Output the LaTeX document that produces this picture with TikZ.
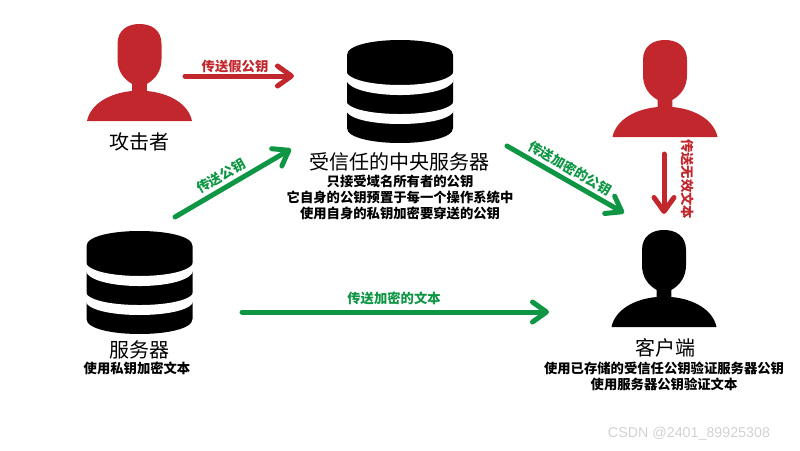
\documentclass[tikz,border=0pt]{standalone}
\usepackage{fontspec}
\setmainfont{Noto Sans CJK SC}
\setsansfont{Liberation Sans}
\usetikzlibrary{arrows.meta}
\definecolor{rosso}{HTML}{C1272D}
\definecolor{verde}{HTML}{0F9645}
\begin{document}
\begin{tikzpicture}[
	x=0.75pt, y=-0.75pt,
	falso/.style={-{Straight Barb[length=10.5pt,width=15pt,round]}, line width=3.75pt, line cap=round, rosso},
	buono/.style={-{Straight Barb[length=10.5pt,width=15pt,round]}, line width=3.75pt, line cap=round, verde},
	titolo/.style={font=\fontsize{15}{18}\selectfont, inner sep=0pt},
	nota/.style={font=\fontsize{10}{12}\selectfont\bfseries, align=center, inner sep=0pt},
	labr/.style={font=\fontsize{10}{12}\selectfont\bfseries, rosso, inner sep=0pt},
	labv/.style={font=\fontsize{10}{12}\selectfont\bfseries, verde, inner sep=0pt},
	firma/.style={font=\sffamily\fontsize{10.7}{12}\selectfont, gray!35, inner sep=0pt},
	]
	
	\useasboundingbox (0,0) rectangle (800,450);
	
	% sagoma della persona, origine in cima alla testa
	\def\sagoma{(-52.5,97) .. controls (-49,80) and (-30,69) .. (-7.3,67) -- (-7.3,60)
		.. controls (-16,55) and (-22,47) .. (-22,35) -- (-22,20)
		.. controls (-22,6) and (-12,0) .. (0,0)
		.. controls (12,0) and (22,6) .. (22,20) -- (22,35)
		.. controls (22,47) and (16,55) .. (7.3,60) -- (7.3,67)
		.. controls (30,69) and (49,80) .. (52.5,97) -- cycle}
	% cilindro del server, origine al centro in alto
	\def\disco{(-53,15) .. controls (-53,-5) and (53,-5) .. (53,15) -- (53,88)
		.. controls (53,108) and (-53,108) .. (-53,88) -- cycle}
	% strisce bianche del cilindro
	\def\primo{(-54,30) .. controls (-54,50) and (54,50) .. (54,30) -- (54,38)
		.. controls (54,60.7) and (-54,60.7) .. (-54,38) -- cycle}
	\def\secondo{(-54,60) .. controls (-54,78.7) and (54,78.7) .. (54,60) -- (54,69)
		.. controls (54,89) and (-54,89) .. (-54,69) -- cycle}
	
	%%=== persone ===
	\begin{scope}[shift={(139.5,24)}]
		\fill[rosso] \sagoma;
	\end{scope}
	\begin{scope}[shift={(665,40)}]
		\fill[rosso] \sagoma;
	\end{scope}
	\begin{scope}[shift={(664,230)}]
		\fill[black] \sagoma;
	\end{scope}
	
	%%=== server ===
	\begin{scope}[shift={(400,40)}]
		\fill[black] \disco;
		\fill[white] \primo;
		\fill[white] \secondo;
	\end{scope}
	\begin{scope}[shift={(139.5,231)}]
		\fill[black] \disco;
		\fill[white] \primo;
		\fill[white] \secondo;
	\end{scope}
	
	%%=== testi ===
	\node[titolo] (attacker) at (139,142) {攻击者};
	\node[titolo] (central) at (399,162) {受信任的中央服务器};
	\node[nota] (centralnote) at (400,197) {只接受域名所有者的公钥\\它自身的公钥预置于每一个操作系统中\\使用自身的私钥加密要穿送的公钥};
	\node[titolo] (server) at (139,350) {服务器};
	\node[nota] (servernote) at (137,368) {使用私钥加密文本};
	\node[titolo] (client) at (665,348) {客户端};
	\node[nota] (clientnote) at (664,376) {使用已存储的受信任公钥验证服务器公钥\\使用服务器公钥验证文本};
	\node[firma] (mark) at (689,434) {CSDN @2401\_89925308};
	
	%%=== estremi delle frecce ===
	\coordinate (fakefrom) at (185,76);
	\coordinate (faketo) at (294,76);
	\coordinate (keyfrom) at (175,217);
	\coordinate (keyto) at (291,149);
	\coordinate (enckeyfrom) at (507,146);
	\coordinate (enckeyto) at (624,213);
	\coordinate (badfrom) at (664,154);
	\coordinate (badto) at (664,214);
	\coordinate (textfrom) at (242,312);
	\coordinate (textto) at (549,312);
	
	%%=== frecce ===
	\draw[falso] (fakefrom) -- (faketo);
	\draw[buono] (keyfrom) -- (keyto);
	\draw[buono] (enckeyfrom) -- (enckeyto);
	\draw[falso] (badfrom) -- (badto);
	\draw[buono] (textfrom) -- (textto);
	
	%%=== etichette delle frecce ===
	\node[labr] (fakelab) at (235,66) {传送假公钥};
	\node[labv, rotate=30] (keylab) at (221,176) {传送公钥};
	\node[labv, rotate=-30] (enckeylab) at (570,168) {传送加密的公钥};
	\node[labr, rotate=-90] (badlab) at (688,179) {传送无效文本};
	\node[labv] (textlab) at (394,298) {传送加密的文本};
	
\end{tikzpicture}
\end{document}
